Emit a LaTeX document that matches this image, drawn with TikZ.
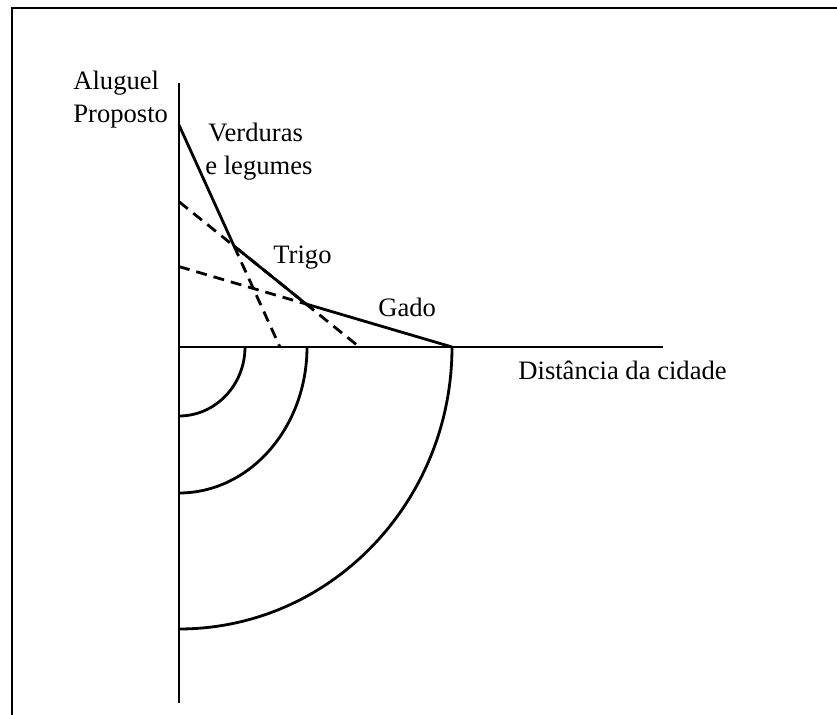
\documentclass[tikz,border=0pt]{standalone}
\usepackage{fontspec}
\setmainfont{Liberation Serif}
\usetikzlibrary{calc}

\begin{document}
\begin{tikzpicture}[
  x=0.5pt, y=0.5pt,
  every node/.style={font=\fontsize{13.3}{16}\selectfont, inner sep=0pt},
  axis/.style={line width=1.1pt},
  curve/.style={line width=1.4pt},
  ext/.style={line width=1.4pt, dash pattern=on 5.5pt off 3.5pt},
  ring/.style={line width=1.4pt},
]
% Canvas: 837 x 715 px, origin at the axis corner
\useasboundingbox (-179,-368) rectangle (658,347);

% Frame (cut off at bottom and right)
\draw[line width=1.3pt] (-167,-375) -- (-167,339) -- (665,339);

% Axes
\draw[axis] (0,-356) -- (0,264);
\draw[axis] (0,0) -- (484,0);

% Bid-rent kinks
\coordinate (v0) at (0,222);
\coordinate (k1) at (55,101);
\coordinate (k2) at (127,43);
\coordinate (g0) at (273,0);

% Extended (dashed) rent lines
\draw[ext] (k1) -- ($(v0)!1.835!(k1)$);
\draw[ext] ($(k1)!-0.76!(k2)$) -- ($(k1)!1.74!(k2)$);
\draw[ext] ($(k2)!-0.87!(g0)$) -- (k2);

% Envelope of proposed rent
\draw[curve] (v0) -- (k1) -- (k2) -- (g0);

% Land-use rings below the axis
\foreach \rx/\ry in {66/69, 128/146, 273/282} {
  \draw[ring] (\rx,0) arc[start angle=0, end angle=-90, x radius=\rx, y radius=\ry];
}

% Labels
\node[anchor=base west] (aluguel) at (-106,257) {Aluguel};
\node[anchor=base west] (proposto) at (-106,224) {Proposto};
\node[anchor=base west] (verduras) at (29,205) {Verduras};
\node[anchor=base west] (legumes) at (26,172) {e legumes};
\node[anchor=base west] (trigo) at (94,83) {Trigo};
\node[anchor=base west] (gado) at (199,30) {Gado};
\node[anchor=base west] (distancia) at (339,-33) {Distância da cidade};

\end{tikzpicture}
\end{document}
